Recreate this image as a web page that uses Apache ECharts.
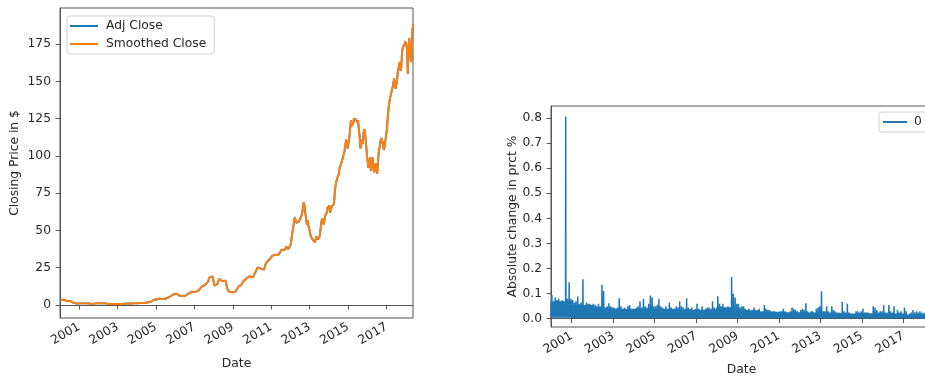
<!DOCTYPE html>
<html>
<head>
<meta charset="utf-8">
<script src="https://cdn.jsdelivr.net/npm/echarts@6/dist/echarts.min.js"></script>
<style>
  html, body { margin: 0; padding: 0; background: #fff; }
  #chart { width: 925px; height: 376px; }
</style>
</head>
<body>
<div id="chart"></div>
<script>
// Monthly closing prices (USD), Jan 2000 .. Dec 2011
const closeMonthly = [
  3.4, 3.2, 3.5, 3.2, 2.7, 3.0, 2.8, 2.5, 1.4, 1.1, 1.0, 0.9,          // 2000
  1.1, 1.0, 1.1, 1.2, 1.1, 1.2, 1.0, 1.0, 0.8, 0.9, 1.1, 1.1,          // 2001
  1.2, 1.1, 1.2, 1.2, 1.1, 0.9, 0.8, 0.8, 0.7, 0.8, 0.8, 0.7,          // 2002
  0.7, 0.8, 0.7, 0.7, 0.9, 1.0, 1.1, 1.1, 1.0, 1.2, 1.1, 1.1,          // 2003
  1.2, 1.2, 1.4, 1.3, 1.4, 1.7, 1.7, 1.8, 2.0, 2.7, 3.4, 3.3,          // 2004
  3.9, 4.6, 4.2, 3.7, 4.1, 3.8, 4.4, 4.8, 5.5, 5.9, 6.9, 7.6,          // 2005
  7.7, 7.0, 6.4, 7.2, 6.1, 5.4, 6.3, 6.9, 7.7, 8.1, 9.0, 8.5,          // 2006
  8.8, 8.7, 9.5, 10.2, 12.2, 12.4, 13.3, 14.0, 15.5, 18.6, 18.2, 19.2, // 2007
  13.0, 12.3, 14.2, 17.6, 18.2, 16.0, 15.5, 16.3, 11.2, 9.1, 9.0, 8.6, // 2008
  8.8, 8.7, 10.2, 12.2, 13.1, 13.8, 15.8, 16.0, 17.8, 18.2, 19.3, 20.4, // 2009
  18.5, 19.8, 22.7, 25.2, 24.8, 24.4, 24.9, 23.7, 27.4, 29.0, 30.2, 31.2, // 2010
  33.0, 34.2, 33.7, 33.7, 33.6, 32.4, 37.1, 37.5, 37.0, 39.2, 37.4, 39.0  // 2011
];

// Half-monthly closing prices (USD), Jan 2012 .. May 2018 (two per month)
const closeHalfMonthly = [
  41, 45, 49, 52, 56, 59, 60, 55, 56, 54, 56, 55, 58, 57, 61, 65, 69, 67, 62, 58, 54, 57, 53, 51,             // 2012
  52, 46, 45, 44, 45, 44, 42, 44, 46, 45, 44, 43, 46, 50, 55, 58, 56, 54, 57, 60, 61, 62, 66, 64,             // 2013
  67, 62, 64, 66, 67, 66, 68, 76, 80, 83, 85, 86, 88, 92, 93, 95, 97, 96, 97, 103, 107, 111, 108, 105,        // 2014
  104, 112, 118, 124, 120, 121, 122, 125, 124, 126, 124, 122, 124, 118, 113, 105, 108, 111, 108, 116, 118, 114, 108, 101, // 2015
  96, 92, 95, 99, 90, 95, 99, 92, 89, 93, 95, 90, 88, 97, 104, 106, 110, 112, 108, 110, 104, 106, 110, 114,   // 2016
  118, 126, 132, 136, 139, 141, 142, 141, 148, 152, 153, 145, 145, 152, 158, 160, 163, 157, 160, 170, 173, 172, 175, 177, // 2017
  178, 172, 155, 174, 179, 170, 163, 165, 185, 188                                                          // 2018
];

// Largest absolute daily change within each month, Jan 2000 .. May 2018
const absMonthMax = [
  0.095, 0.070, 0.085, 0.075, 0.080, 0.065, 0.075, 0.060, 0.806, 0.080, 0.145, 0.080, // 2000
  0.075, 0.065, 0.070, 0.089, 0.060, 0.065, 0.157, 0.055, 0.065, 0.060, 0.060, 0.055, // 2001
  0.060, 0.055, 0.050, 0.060, 0.050, 0.135, 0.110, 0.045, 0.050, 0.062, 0.050, 0.045, // 2002
  0.045, 0.040, 0.045, 0.082, 0.050, 0.040, 0.045, 0.040, 0.050, 0.055, 0.040, 0.035, // 2003
  0.040, 0.045, 0.050, 0.070, 0.045, 0.080, 0.050, 0.045, 0.060, 0.093, 0.085, 0.050, // 2004
  0.050, 0.055, 0.080, 0.050, 0.045, 0.040, 0.050, 0.040, 0.065, 0.045, 0.040, 0.040, // 2005
  0.050, 0.045, 0.070, 0.050, 0.045, 0.040, 0.082, 0.045, 0.040, 0.045, 0.035, 0.040, // 2006
  0.060, 0.040, 0.035, 0.050, 0.035, 0.040, 0.045, 0.045, 0.040, 0.070, 0.045, 0.040, // 2007
  0.090, 0.060, 0.050, 0.060, 0.040, 0.045, 0.050, 0.040, 0.166, 0.100, 0.085, 0.060, // 2008
  0.060, 0.045, 0.050, 0.050, 0.040, 0.035, 0.040, 0.030, 0.035, 0.045, 0.030, 0.035, // 2009
  0.040, 0.030, 0.030, 0.055, 0.040, 0.035, 0.035, 0.030, 0.030, 0.030, 0.025, 0.020, // 2010
  0.030, 0.030, 0.040, 0.030, 0.025, 0.025, 0.030, 0.045, 0.040, 0.035, 0.030, 0.025, // 2011
  0.035, 0.040, 0.035, 0.062, 0.030, 0.025, 0.030, 0.030, 0.025, 0.040, 0.045, 0.050, // 2012
  0.109, 0.030, 0.030, 0.050, 0.030, 0.025, 0.050, 0.035, 0.030, 0.025, 0.025, 0.020, // 2013
  0.067, 0.030, 0.025, 0.060, 0.025, 0.020, 0.020, 0.020, 0.030, 0.030, 0.025, 0.030, // 2014
  0.040, 0.025, 0.025, 0.025, 0.020, 0.020, 0.050, 0.045, 0.035, 0.025, 0.030, 0.030, // 2015
  0.055, 0.025, 0.025, 0.055, 0.030, 0.025, 0.050, 0.020, 0.035, 0.025, 0.030, 0.020, // 2016
  0.045, 0.030, 0.015, 0.020, 0.025, 0.035, 0.025, 0.030, 0.025, 0.030, 0.025, 0.020, // 2017
  0.025, 0.040, 0.030, 0.030, 0.045                                                     // 2018
];

// Usual upper level of the daily changes in each year, 2000 .. 2018
const absYearBase = [
  0.070, 0.055, 0.045, 0.040, 0.040, 0.040, 0.036, 0.036, 0.046, 0.034,
  0.028, 0.026, 0.025, 0.023, 0.021, 0.022, 0.021, 0.017, 0.023
];

// Smallest absolute daily change in each year, 2000 .. 2018
const absYearFloor = [
  0.004, 0.003, 0.003, 0.003, 0.003, 0.003, 0.003, 0.003, 0.003, 0.003,
  0.002, 0.002, 0.002, 0.002, 0.002, 0.002, 0.002, 0.002, 0.002
];

// Year ticks shown on both date axes
const yearTicks = [2001, 2003, 2005, 2007, 2009, 2011, 2013, 2015, 2017];
const priceTicks = [0, 25, 50, 75, 100, 125, 150, 175];
const changeTicks = [0.0, 0.1, 0.2, 0.3, 0.4, 0.5, 0.6, 0.7, 0.8];

const firstDay = Date.UTC(2000, 0, 3);
const lastDay = Date.UTC(2018, 4, 18);

// price points: monthly up to 2011, then two per month
const priceData = closeMonthly.map((v, i) => [Date.UTC(2000, i, 15), v]);
closeHalfMonthly.forEach((v, i) => {
  const m = Math.floor(i / 2);
  priceData.push([Date.UTC(2012, m, i % 2 === 0 ? 8 : 23), v]);
});

// daily-change trace: within each month it swings between the yearly floor,
// the yearly usual level and, once, the month's largest move
const changeData = [];
absMonthMax.forEach((v, i) => {
  const y = Math.floor(i / 12);
  const lo = absYearFloor[y], mid = absYearBase[y];
  changeData.push([Date.UTC(2000, i, 1), lo]);
  changeData.push([Date.UTC(2000, i, 4), mid]);
  changeData.push([Date.UTC(2000, i, 8), lo]);
  changeData.push([Date.UTC(2000, i, 11), mid]);
  changeData.push([Date.UTC(2000, i, 15), lo]);
  changeData.push([Date.UTC(2000, i, 18), v]);
  changeData.push([Date.UTC(2000, i, 22), lo]);
  changeData.push([Date.UTC(2000, i, 26), mid]);
});
changeData.push([Date.UTC(2000, absMonthMax.length, 1), absYearFloor[absYearFloor.length - 1]]);

const tickDates = yearTicks.map(y => Date.UTC(y, 0, 1));

const FONT = 'DejaVu Sans';
const FS = 12.3;
const TXT = '#262626';
const SPINE = '#555';
const BLUE = '#1f77b4';
const ORANGE = '#ff7f0e';

function dateAxis(gridIndex) {
  return {
    type: 'value', gridIndex, min: firstDay, max: lastDay,
    name: 'Date', nameLocation: 'middle', nameGap: gridIndex === 0 ? 40 : 37,
    nameMoveOverlap: false,
    nameTextStyle: { fontFamily: FONT, fontSize: FS, color: TXT },
    splitLine: { show: false },
    axisLine: { show: true, lineStyle: { color: SPINE, width: 1 } },
    axisTick: { show: true, length: 4.4, customValues: tickDates, lineStyle: { color: SPINE } },
    axisLabel: {
      customValues: tickDates, rotate: 30, margin: 8,
      fontFamily: FONT, fontSize: FS, color: TXT,
      formatter: v => String(new Date(v).getUTCFullYear())
    }
  };
}

const option = {
  animation: false,
  backgroundColor: '#fff',
  grid: [
    { left: 60, top: 8, width: 353, height: 310, show: true, borderColor: SPINE, borderWidth: 1,
      containLabel: false, outerBoundsMode: 'none' },
    { left: 551, top: 106, width: 381, height: 221, show: true, borderColor: SPINE, borderWidth: 1,
      containLabel: false, outerBoundsMode: 'none' }
  ],
  xAxis: [dateAxis(0), dateAxis(1)],
  yAxis: [
    {
      type: 'value', gridIndex: 0, min: -8.7, max: 199.2,
      name: 'Closing Price in $', nameLocation: 'middle', nameGap: 39, nameMoveOverlap: false,
      nameTextStyle: { fontFamily: FONT, fontSize: FS, color: TXT },
      splitLine: { show: false },
      axisLine: { show: true, lineStyle: { color: SPINE, width: 1 } },
      axisTick: { show: true, length: 4.4, customValues: priceTicks, lineStyle: { color: SPINE } },
      axisLabel: { customValues: priceTicks, margin: 9, fontFamily: FONT, fontSize: FS, color: TXT }
    },
    {
      type: 'value', gridIndex: 1, min: -0.033, max: 0.848,
      name: 'Absolute change in prct %', nameLocation: 'middle', nameGap: 32, nameMoveOverlap: false,
      nameTextStyle: { fontFamily: FONT, fontSize: FS, color: TXT },
      splitLine: { show: false },
      axisLine: { show: true, lineStyle: { color: SPINE, width: 1 } },
      axisTick: { show: true, length: 4.4, customValues: changeTicks, lineStyle: { color: SPINE } },
      axisLabel: {
        customValues: changeTicks, margin: 9, fontFamily: FONT, fontSize: FS, color: TXT,
        formatter: v => v.toFixed(1)
      }
    }
  ],
  legend: [
    {
      data: [
        { name: 'Adj Close', itemStyle: { color: BLUE } },
        { name: 'Smoothed Close', itemStyle: { color: ORANGE } }
      ],
      orient: 'vertical', left: 67, top: 16,
      icon: 'rect', itemWidth: 28, itemHeight: 2, itemGap: 4,
      padding: [3, 8, 3, 3],
      backgroundColor: 'rgba(255,255,255,0.8)', borderColor: '#d0d0d0', borderWidth: 1, borderRadius: 3,
      textStyle: { fontFamily: FONT, fontSize: FS, color: TXT, lineHeight: 14, padding: [0, 0, 0, 3] }
    },
    {
      data: [{ name: '0', itemStyle: { color: BLUE } }],
      orient: 'vertical', left: 879, top: 112,
      icon: 'rect', itemWidth: 24, itemHeight: 2,
      padding: [3, 8, 3, 4],
      backgroundColor: 'rgba(255,255,255,0.8)', borderColor: '#d0d0d0', borderWidth: 1, borderRadius: 3,
      textStyle: { fontFamily: FONT, fontSize: FS, color: TXT, lineHeight: 14, padding: [0, 0, 0, 2] }
    }
  ],
  series: [
    {
      name: 'Adj Close', type: 'line', xAxisIndex: 0, yAxisIndex: 0,
      data: priceData, showSymbol: false, color: BLUE,
      lineStyle: { width: 1.9, color: BLUE }
    },
    {
      name: 'Smoothed Close', type: 'line', xAxisIndex: 0, yAxisIndex: 0,
      data: priceData, showSymbol: false, color: ORANGE,
      lineStyle: { width: 1.9, color: ORANGE }
    },
    {
      name: '0', type: 'line', xAxisIndex: 1, yAxisIndex: 1,
      data: changeData, showSymbol: false, color: BLUE,
      lineStyle: { width: 1.5, color: BLUE }
    }
  ]
};

const chart = echarts.init(document.getElementById('chart'), null, { renderer: 'canvas' });
chart.setOption(option);
</script>
</body>
</html>
